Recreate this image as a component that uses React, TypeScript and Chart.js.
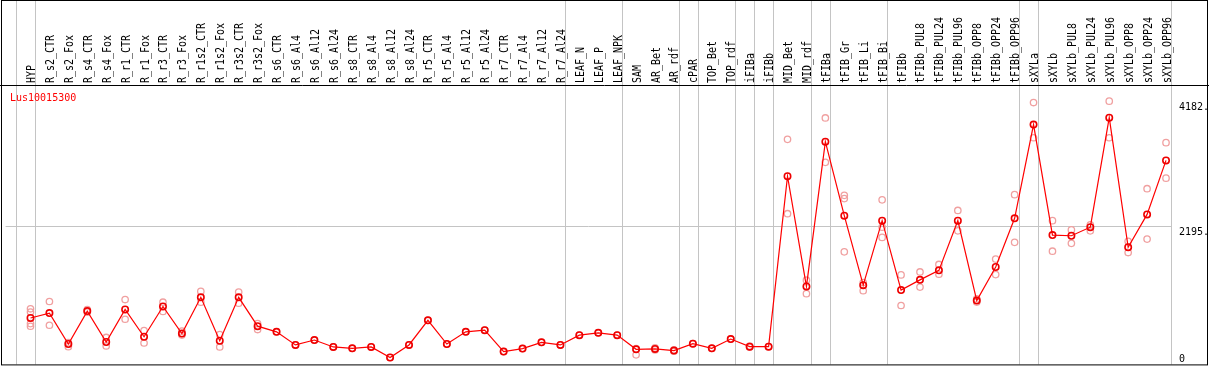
import React, { useEffect, useRef } from "react";
import { Chart, registerables } from "chart.js";

Chart.register(...registerables);

const TITLE = "Lus10015300";

const categories = [
  "HYP", "R_s2_CTR", "R_s2_Fox", "R_s4_CTR", "R_s4_Fox", "R_r1_CTR", "R_r1_Fox",
  "R_r3_CTR", "R_r3_Fox", "R_r1s2_CTR", "R_r1s2_Fox", "R_r3s2_CTR", "R_r3s2_Fox",
  "R_s6_CTR", "R_s6_Al4", "R_s6_Al12", "R_s6_Al24", "R_s8_CTR", "R_s8_Al4",
  "R_s8_Al12", "R_s8_Al24", "R_r5_CTR", "R_r5_Al4", "R_r5_Al12", "R_r5_Al24",
  "R_r7_CTR", "R_r7_Al4", "R_r7_Al12", "R_r7_Al24", "LEAF_N", "LEAF_P", "LEAF_NPK",
  "SAM", "AR_Bet", "AR_rdf", "cPAR", "TOP_Bet", "TOP_rdf", "iFIBa", "iFIBb",
  "MID_Bet", "MID_rdf", "tFIBa", "tFIB_Gr", "tFIB_Li", "tFIB_Bi", "tFIBb",
  "tFIBb_PUL8", "tFIBb_PUL24", "tFIBb_PUL96", "tFIBb_OPP8", "tFIBb_OPP24", "tFIBb_OPP96",
  "sXYLa", "sXYLb", "sXYLb_PUL8", "sXYLb_PUL24", "sXYLb_PUL96", "sXYLb_OPP8",
  "sXYLb_OPP24", "sXYLb_OPP96",
];

const means = [
  737, 815, 324, 847, 356, 873, 439, 920, 491, 1066, 376, 1066, 607,
  517, 309, 387, 277, 256, 277, 110, 309, 701, 324, 517, 543,
  204, 251, 350, 309, 465, 502, 465,
  240, 246, 220, 329, 256, 403, 282, 282,
  2990, 1239, 3539, 2363, 1259, 2284, 1181,
  1343, 1494, 2284, 1014, 1547, 2321,
  3810, 2054, 2044, 2180, 3920, 1861, 2383, 3241,
];

const replicates: number[][] = [
  [883, 831, 648, 606], [999, 622], [345, 282], [870, 830], [428, 293], [1030, 717],
  [538, 340], [988, 842], [528, 466], [1160, 988], [475, 277], [1150, 972], [648, 554],
  [517], [309], [387], [277], [256], [277], [110], [309], [701], [324], [517], [543],
  [204], [251], [350], [309], [465], [502], [465],
  [250, 152], [262, 230], [230, 210], [329], [256], [403], [290, 275], [282],
  [3575, 2394], [1338, 1124], [3915, 3210], [2686, 2634, 1788], [1301, 1171],
  [2614, 2180, 2018], [1422, 936],
  [1469, 1228], [1588, 1432], [2446, 2122], [1040, 990], [1673, 1427], [2697, 1939],
  [4160, 3601], [2284, 1798], [2137, 1923], [2216, 2122], [4182, 3601], [1955, 1777],
  [2791, 1991], [3523, 2959],
];

// index of the last category of each group (-1 = left edge)
const groupEnds = [-1, 0, 28, 31, 34, 35, 37, 38, 39, 41, 42, 45, 52, 53, 60];

const yLabels = [4182, 2195, 0];
const Y_MAX = 4182 * 1.05;

const MONO = "'DejaVu Sans Mono', monospace";

const framePlugin = {
  id: "frame",
  beforeDatasetsDraw(chart: any) {
    const { ctx, chartArea: a, scales } = chart;
    const xs = scales.x;
    const ys = scales.y;
    const W = chart.width;
    ctx.save();

    // group separators
    ctx.strokeStyle = "#c4c4c4";
    ctx.lineWidth = 1;
    groupEnds.forEach((g) => {
      const x = Math.round(xs.getPixelForValue(g + 0.25)) + 0.5;
      ctx.beginPath();
      ctx.moveTo(x, 0);
      ctx.lineTo(x, a.bottom);
      ctx.stroke();
    });

    // mid grid line
    const ym = Math.round(ys.getPixelForValue(yLabels[1])) + 0.5;
    const xr = Math.round(xs.getPixelForValue(groupEnds[groupEnds.length - 1] + 0.25)) + 0.5;
    ctx.beginPath();
    ctx.moveTo(a.left, ym);
    ctx.lineTo(xr, ym);
    ctx.stroke();

    // frame
    ctx.strokeStyle = "#000";
    ctx.lineWidth = 1;
    ctx.strokeRect(1.5, 0.5, W - 3, a.bottom);
    ctx.beginPath();
    ctx.moveTo(0, 85.5);
    ctx.lineTo(W, 85.5);
    ctx.stroke();

    // header labels
    ctx.fillStyle = "#000";
    ctx.font = `12px ${MONO}`;
    ctx.textAlign = "left";
    ctx.textBaseline = "alphabetic";
    categories.forEach((c, i) => {
      const x = xs.getPixelForValue(i) + 4.5;
      ctx.save();
      ctx.translate(x, 83);
      ctx.rotate(-Math.PI / 2);
      ctx.scale(0.831, 1);
      ctx.fillText(c, 0, 0);
      ctx.restore();
    });

    // title
    ctx.fillStyle = "#ff0000";
    ctx.font = `10px ${MONO}`;
    ctx.fillText(TITLE, 10, 101);

    // y labels
    ctx.fillStyle = "#000";
    yLabels.forEach((v) => {
      const p = ys.getPixelForValue(v);
      const base = Math.min(p + 9, a.bottom - 2);
      ctx.fillText(String(v) + (v === 0 ? "" : "."), xr + 7.5, base);
    });

    ctx.restore();
  },
};

export default function App() {
  const ref = useRef<HTMLCanvasElement | null>(null);

  useEffect(() => {
    document.body.style.margin = "0";
    const canvas = ref.current;
    if (!canvas) return;

    const meanData = means.map((m, i) => ({ x: i, y: m }));
    const repData: { x: number; y: number }[] = [];
    replicates.forEach((arr, i) => arr.forEach((v) => repData.push({ x: i, y: v })));

    const chart = new Chart(canvas, {
      type: "scatter",
      data: {
        datasets: [
          {
            label: "mean",
            data: meanData,
            showLine: true,
            borderColor: "#ff0000",
            borderWidth: 1.2,
            pointRadius: 3.2,
            pointBorderWidth: 1.6,
            pointBorderColor: "#ee0000",
            pointBackgroundColor: "rgba(0,0,0,0)",
            pointStyle: "circle",
            clip: false,
          } as any,
          {
            label: "replicates",
            data: repData,
            showLine: false,
            pointRadius: 3.2,
            pointBorderWidth: 1.3,
            pointBorderColor: "#f0a0a0",
            pointBackgroundColor: "rgba(0,0,0,0)",
            pointStyle: "circle",
            clip: false,
          } as any,
        ],
      },
      options: {
        responsive: false,
        animation: false,
        layout: { padding: { left: 1, right: 39, top: 88, bottom: 2 } },
        scales: {
          x: { type: "linear", display: false, min: -25 / 19, max: 1144 / 19 },
          y: { type: "linear", display: false, min: 0, max: Y_MAX },
        },
        plugins: {
          legend: { display: false },
          tooltip: { enabled: false },
        },
        events: [],
      },
      plugins: [framePlugin],
    });

    return () => chart.destroy();
  }, []);

  return (
    <canvas
      ref={ref}
      width={1209}
      height={370}
      style={{ display: "block", width: 1209, height: 370 }}
    />
  );
}
